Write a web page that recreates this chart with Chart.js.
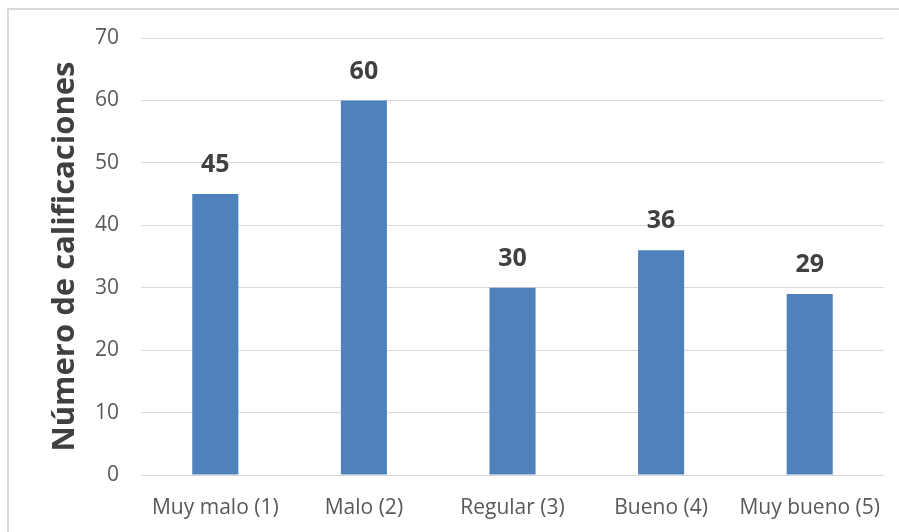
<!DOCTYPE html>
<html>
<head>
<meta charset="utf-8">
<script src="https://cdn.jsdelivr.net/npm/chart.js@4"></script>
<style>
  html, body { margin: 0; padding: 0; background: #fff; overflow: hidden; }
  #marco {
    position: absolute; left: 7px; top: 8px; width: 1000px; height: 600px;
    border-left: 2px solid #d9d9d9; border-top: 2px solid #d9d9d9;
  }
  #wrap { position: absolute; left: 0; top: 0; width: 899px; height: 532px; }
</style>
</head>
<body>
<div id="marco"></div>
<div id="wrap"><canvas id="grafico"></canvas></div>
<script>
// categorías y valores
const categorias = ['Muy malo (1)', 'Malo (2)', 'Regular (3)', 'Bueno (4)', 'Muy bueno (5)'];
const calificaciones = [45, 60, 30, 36, 29];
const tituloEje = 'Número de calificaciones';

const fuente = "'Open Sans', 'Liberation Sans', sans-serif";

// etiquetas encima de cada barra
const etiquetasBarras = {
  id: 'etiquetasBarras',
  afterDatasetsDraw(chart) {
    const ctx = chart.ctx;
    const meta = chart.getDatasetMeta(0);
    ctx.save();
    ctx.font = 'bold 25px ' + fuente;
    ctx.fillStyle = '#404040';
    ctx.textAlign = 'center';
    ctx.textBaseline = 'middle';
    meta.data.forEach((bar, i) => {
      ctx.fillText(String(chart.data.datasets[0].data[i]), bar.x, bar.y - 29);
    });
    ctx.restore();
  }
};

new Chart(document.getElementById('grafico'), {
  type: 'bar',
  data: {
    labels: categorias,
    datasets: [{
      data: calificaciones,
      backgroundColor: '#4f81bd',
      barPercentage: 0.31,
      categoryPercentage: 1
    }]
  },
  options: {
    responsive: true,
    maintainAspectRatio: false,
    animation: false,
    layout: { padding: { top: 38, right: 15, left: 0, bottom: 0 } },
    plugins: {
      legend: { display: false },
      tooltip: { enabled: false }
    },
    scales: {
      x: {
        grid: { display: false },
        border: { display: false },
        ticks: {
          color: '#595959',
          font: { family: fuente, size: 21 },
          padding: 12,
          maxRotation: 0
        },
        afterFit(scale) { scale.height = 57; }
      },
      y: {
        min: 0,
        max: 70,
        ticks: {
          stepSize: 10,
          color: '#595959',
          font: { family: fuente, size: 21 },
          padding: 22
        },
        grid: { color: '#d9d9d9', lineWidth: 1, drawTicks: false },
        border: { display: false },
        title: {
          display: true,
          text: tituloEje,
          color: '#404040',
          font: { family: fuente, size: 31, weight: 'bold' },
          padding: { top: 47, bottom: 0 }
        },
        afterFit(scale) { scale.width = 141; }
      }
    }
  },
  plugins: [etiquetasBarras]
});
</script>
</body>
</html>
